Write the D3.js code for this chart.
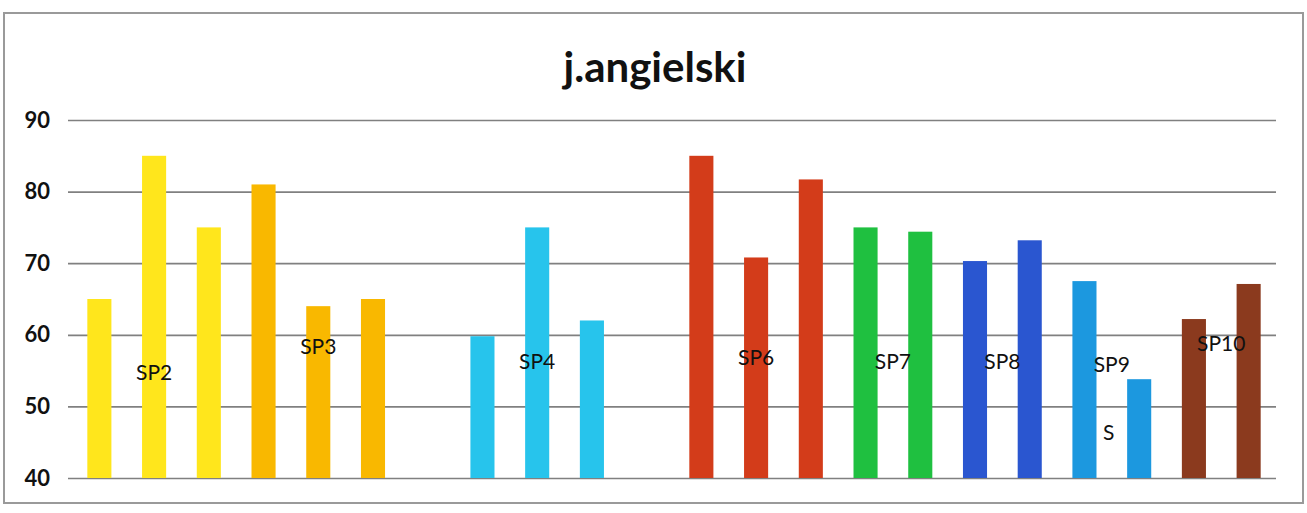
<!DOCTYPE html>
<html>
<head>
<meta charset="utf-8">
<script src="https://cdn.jsdelivr.net/npm/d3@7"></script>
<style>
  body { margin: 0; background: #fff; }
  svg { display: block; }
</style>
</head>
<body>
<svg id="viz" width="1307" height="513"></svg>
<script>
// one slot per bar, null values are empty gaps
var slots = ["a1","a2","a3","b1","b2","b3","g1","c1","c2","c3","g2","d1","d2","d3","e1","e2","f1","f2","h1","h2","i1","i2"];
var values = [65, 85, 75, 81, 64, 65, null, 59.8, 75, 62, null, 85, 70.8, 81.7, 75, 74.4, 70.3, 73.2, 67.5, 53.8, 62.2, 67.1];
var groups = ["SP2","SP2","SP2","SP3","SP3","SP3","","SP4","SP4","SP4","","SP6","SP6","SP6","SP7","SP7","SP8","SP8","SP9","SP9","SP10","SP10"];
var groupNames = ["SP2", "SP3", "SP4", "SP6", "SP7", "SP8", "SP9", "SP10"];
var groupColors = ["#FFE61C", "#F9B800", "#27C4EC", "#D33C1A", "#1FC040", "#2A56D0", "#1C98DF", "#8B3A1E"];
var labelValues = [54.7, 58.3, 56.2, 56.8, 56.3, 56.3, 55.9, 58.8];
var yTicks = [40, 50, 60, 70, 80, 90];
var title = "j.angielski";

var svg = d3.select("#viz");

var plotLeft = 72, plotRight = 1276, plotTop = 120, plotBottom = 478;

var x = d3.scaleBand().domain(slots).range([plotLeft, plotRight]).paddingInner(0.56).paddingOuter(0.28);
var y = d3.scaleLinear().domain([40, 90]).range([plotBottom, plotTop]);
var color = d3.scaleOrdinal().domain(groupNames).range(groupColors);

// frame
svg.append("rect")
    .attr("x", 4).attr("y", 13)
    .attr("width", 1299).attr("height", 490)
    .attr("fill", "#fff")
    .attr("stroke", "#9a9a9a")
    .attr("stroke-width", 2);

svg.append("text")
    .attr("x", 655)
    .attr("y", 82)
    .attr("text-anchor", "middle")
    .style("font-family", "Lato, 'Open Sans', sans-serif")
    .style("font-weight", "bold")
    .style("font-size", "42px")
    .attr("fill", "#111")
    .text(title);

// gridlines + tick labels
var yAxis = d3.axisLeft(y).tickValues(yTicks).tickSize(-(plotRight - plotLeft + 4)).tickPadding(18);
var gy = svg.append("g")
    .attr("transform", "translate(" + (plotLeft - 4) + ",0)")
    .call(yAxis);
gy.select(".domain").remove();
gy.selectAll(".tick line")
    .attr("stroke", "#808080")
    .attr("stroke-width", 1.7);
gy.selectAll(".tick text")
    .attr("fill", "#111")
    .style("font-family", "Lato, 'Open Sans', sans-serif")
    .style("font-weight", "bold")
    .style("font-size", "22px");

// bars
var bars = [];
slots.forEach(function (s, i) {
    if (values[i] != null) bars.push({ slot: s, value: values[i], group: groups[i] });
});

svg.append("g").selectAll("rect")
    .data(bars)
    .enter().append("rect")
    .attr("x", function (d) { return x(d.slot); })
    .attr("width", x.bandwidth())
    .attr("y", function (d) { return y(d.value); })
    .attr("height", function (d) { return y(40) - y(d.value); })
    .attr("fill", function (d) { return color(d.group); });

// group labels, centred on the group's bars
var labelFont = "Lato, 'Open Sans', sans-serif";
groupNames.forEach(function (g, i) {
    var xs = bars.filter(function (d) { return d.group === g; })
        .map(function (d) { return x(d.slot) + x.bandwidth() / 2; });
    svg.append("text")
        .attr("x", d3.mean(xs))
        .attr("y", y(labelValues[i]))
        .attr("dy", "0.35em")
        .attr("text-anchor", "middle")
        .style("font-family", labelFont)
        .style("font-size", "21px")
        .attr("fill", "#111")
        .text(g);
});

// stray "S" under SP9
var sp9 = bars.filter(function (d) { return d.group === "SP9"; })
    .map(function (d) { return x(d.slot) + x.bandwidth() / 2; });
svg.append("text")
    .attr("x", d3.mean(sp9) - 3)
    .attr("y", y(46.3))
    .attr("dy", "0.35em")
    .attr("text-anchor", "middle")
    .style("font-family", labelFont)
    .style("font-size", "21px")
    .attr("fill", "#111")
    .text("S");
</script>
</body>
</html>
